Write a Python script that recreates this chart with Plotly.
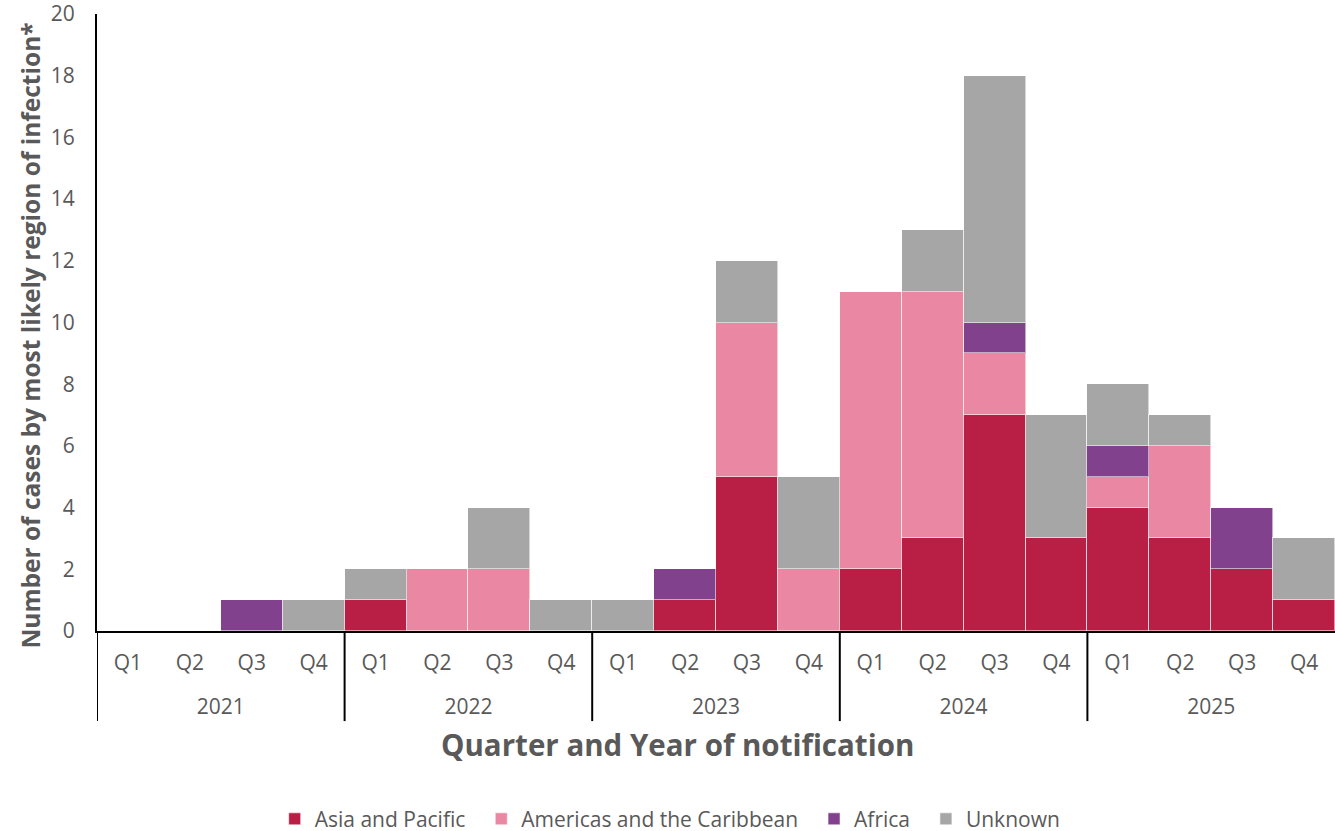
import plotly.graph_objects as go

years = ["2021", "2022", "2023", "2024", "2025"]
quarters = ["Q1", "Q2", "Q3", "Q4"]

asia_pacific = [0, 0, 0, 0, 1, 0, 0, 0, 0, 1, 5, 0, 2, 3, 7, 3, 4, 3, 2, 1]
americas_caribbean = [0, 0, 0, 0, 0, 2, 2, 0, 0, 0, 5, 2, 9, 8, 2, 0, 1, 3, 0, 0]
africa = [0, 0, 1, 0, 0, 0, 0, 0, 0, 1, 0, 0, 0, 0, 1, 0, 1, 0, 2, 0]
unknown = [0, 0, 0, 1, 1, 0, 2, 1, 1, 0, 2, 3, 0, 2, 8, 4, 2, 1, 0, 2]

y_ticks = [0, 2, 4, 6, 8, 10, 12, 14, 16, 18, 20]

series_names = ["Asia and Pacific", "Americas and the Caribbean", "Africa", "Unknown"]
series_values = [asia_pacific, americas_caribbean, africa, unknown]
series_colors = ["#B91F45", "#EA87A2", "#82418C", "#A6A6A6"]

categories = [f"{y} {q}" for y in years for q in quarters]
quarter_labels = [q for y in years for q in quarters]
nq = len(quarters)
year_centers = [i * nq + (nq - 1) / 2 for i in range(len(years))]
year_starts = [i * nq - 0.5 for i in range(len(years))]

FONT = "'Open Sans', sans-serif"
GREY = "#595959"
NBSP = "\u00a0"

fig = go.Figure()
for i, (name, vals, color) in enumerate(zip(series_names, series_values, series_colors)):
    # non-breaking spaces widen the gap between legend entries (as in the reference)
    label = name + (NBSP * 2 if i < len(series_names) - 1 else "")
    fig.add_trace(go.Bar(
        x=categories, y=vals, name=label,
        marker=dict(color=color, line=dict(color="rgba(255,255,255,0.55)", width=1)),
    ))

# invisible helper trace so the year-level axis is drawn
fig.add_trace(go.Scatter(x=year_centers, y=[None] * len(years), xaxis="x2",
                         showlegend=False, hoverinfo="skip", mode="markers"))

for xs in year_starts:
    fig.add_shape(type="line", xref="x2", yref="paper", x0=xs, x1=xs,
                  y0=0, y1=-0.146, line=dict(color="black", width=2))

fig.add_annotation(text="<b>Quarter and Year of notification</b>",
                   xref="paper", yref="paper", x=0.4685, y=-0.1835,
                   xanchor="center", yanchor="middle", showarrow=False,
                   font=dict(size=29.5, color=GREY, family=FONT))
fig.add_annotation(text="<b>Number of cases by most likely region of infection*</b>",
                   xref="paper", yref="paper", x=-0.054, y=0.479, textangle=-90,
                   xanchor="center", yanchor="middle", showarrow=False,
                   font=dict(size=24.5, color=GREY, family=FONT))

fig.update_layout(
    barmode="stack",
    bargap=0,
    width=1335, height=840,
    margin=dict(l=97, r=0, t=14, b=203),
    paper_bgcolor="white", plot_bgcolor="white",
    font=dict(family=FONT, color=GREY, size=20),
    legend=dict(
        orientation="h", x=0.463, xanchor="center", y=-0.305, yanchor="middle",
        font=dict(size=21, color=GREY), traceorder="normal",
    ),
    xaxis=dict(
        type="category", range=[-0.5, len(categories) - 0.5],
        showline=True, linecolor="black", linewidth=2,
        showgrid=False, ticks="", ticklen=0, automargin=False,
        tickvals=categories, ticktext=quarter_labels,
        tickfont=dict(size=21, color=GREY), ticklabelstandoff=12,
    ),
    xaxis2=dict(
        overlaying="x", anchor="y", side="bottom", type="linear",
        range=[-0.5, len(categories) - 0.5],
        showline=False, showgrid=False, zeroline=False, ticks="", ticklen=0,
        automargin=False, tickvals=year_centers, ticktext=years,
        tickfont=dict(size=21, color=GREY), ticklabelstandoff=61,
    ),
    yaxis=dict(
        range=[0, 20], tickmode="array", tickvals=y_ticks,
        showline=True, linecolor="black", linewidth=2,
        showgrid=False, zeroline=False, ticks="", ticklen=0, automargin=False,
        tickfont=dict(size=21, color=GREY), ticklabelstandoff=16,
        ticklabeloverflow="allow",
    ),
)

post = (
    "document.documentElement.style.margin='0';"
    "document.documentElement.style.overflow='hidden';"
    "document.body.style.margin='0';"
    "document.body.style.overflow='hidden';"
    "var gd=document.getElementById('{plot_id}');"
    "gd.style.position='fixed';gd.style.left='0px';gd.style.top='0px';"
)

fig.write_html("out.html", config={"displayModeBar": False}, post_script=post)
